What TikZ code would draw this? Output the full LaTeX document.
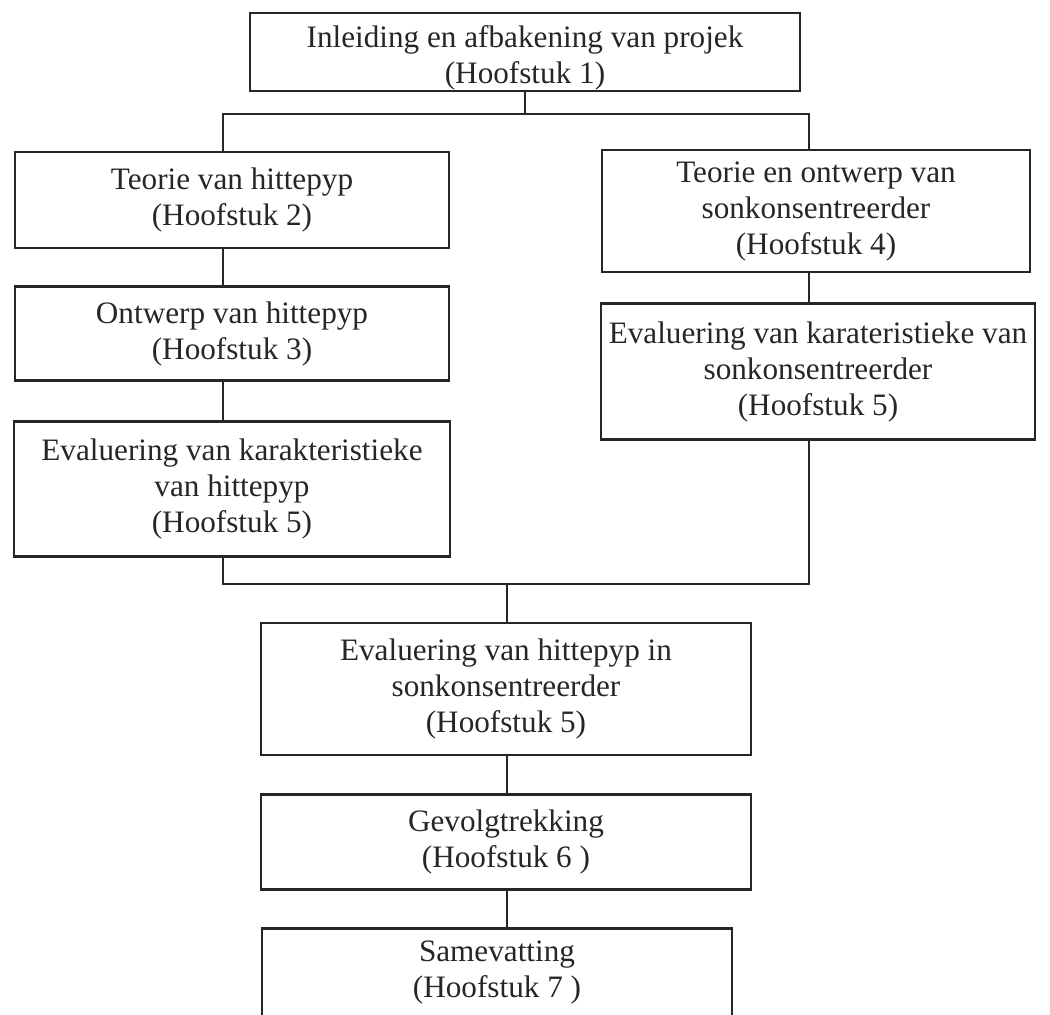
\documentclass[tikz,border=0pt]{standalone}
\usepackage{fontspec}
\setmainfont{Liberation Serif}
\usepackage{tikz}
\usetikzlibrary{positioning}
\definecolor{inkgray}{RGB}{38, 38, 38}
\tikzset{
  chapbox/.style={draw=inkgray, line width=1.3pt, text=inkgray, align=center, inner sep=0pt},
  link/.style={draw=inkgray, line width=1pt}
}

\begin{document}
\begin{tikzpicture}[x=0.5pt, y=-0.5pt, font=\fontsize{15.6}{18}\selectfont]
    \useasboundingbox (0,0) rectangle (1050,1014);
    \node[chapbox, minimum width=275pt, minimum height=39pt] (intro) at (525,52) {
        \rule{0pt}{16.5pt}Inleiding en afbakening van projek\\
        (Hoofstuk 1)
    };
    % linkerkolom: hittepyp
    \node[chapbox, minimum width=217pt, minimum height=48pt] (hp1) at (232,200) {
        Teorie van hittepyp\\
        (Hoofstuk 2)
    };
    \node[chapbox, minimum width=217pt, minimum height=47pt, below=18pt of hp1] (hp2) {
        Ontwerp van hittepyp\\
        (Hoofstuk 3)
    };
    \node[chapbox, minimum width=218pt, minimum height=67.5pt, below=19pt of hp2] (hp3) {
        Evaluering van karakteristieke\\
        van hittepyp\\
        (Hoofstuk 5)
    };
    % regterkolom: sonkonsentreerder
    \node[chapbox, minimum width=214pt, minimum height=61pt] (sk1) at (816,211) {
        Teorie en ontwerp van\\
        sonkonsentreerder\\
        (Hoofstuk 4)
    };
    \node[chapbox, minimum width=217pt, minimum height=68pt, below=14.5pt of sk1, xshift=1pt] (sk2) {
        Evaluering van karateristieke van\\
        sonkonsentreerder\\
        (Hoofstuk 5)
    };
    % saamgevoeg
    \node[chapbox, minimum width=245pt, minimum height=66pt] (comb) at (506,689) {
        Evaluering van hittepyp in\\
        sonkonsentreerder\\
        (Hoofstuk 5)
    };
    \node[chapbox, minimum width=245pt, minimum height=47.5pt, below=18.5pt of comb] (concl) {
        Gevolgtrekking\\
        (Hoofstuk 6 )
    };
    \node[chapbox, minimum width=235pt, minimum height=44.5pt, below=18pt of concl, xshift=-4.5pt] (summ) {
        Samevatting\\
        (Hoofstuk 7 )
    };
    \coordinate (lcol) at (223,0);
    \coordinate (rcol) at (809,0);
    \coordinate (fork) at (525,114);
    \coordinate (merge) at (507,584);
    \draw[link] (intro.south) -- (fork);
    \draw[link] (hp1.north -| lcol) |- (fork) -| (sk1.north -| rcol);
    \draw[link] (hp1.south -| lcol) -- (hp2.north -| lcol);
    \draw[link] (hp2.south -| lcol) -- (hp3.north -| lcol);
    \draw[link] (sk1.south -| rcol) -- (sk2.north -| rcol);
    \draw[link] (hp3.south -| lcol) |- (merge) -| (sk2.south -| rcol);
    \draw[link] (merge) -- (comb.north -| merge);
    \draw[link] (comb.south -| merge) -- (concl.north -| merge);
    \draw[link] (concl.south -| merge) -- (summ.north -| merge);
\end{tikzpicture}
\end{document}
